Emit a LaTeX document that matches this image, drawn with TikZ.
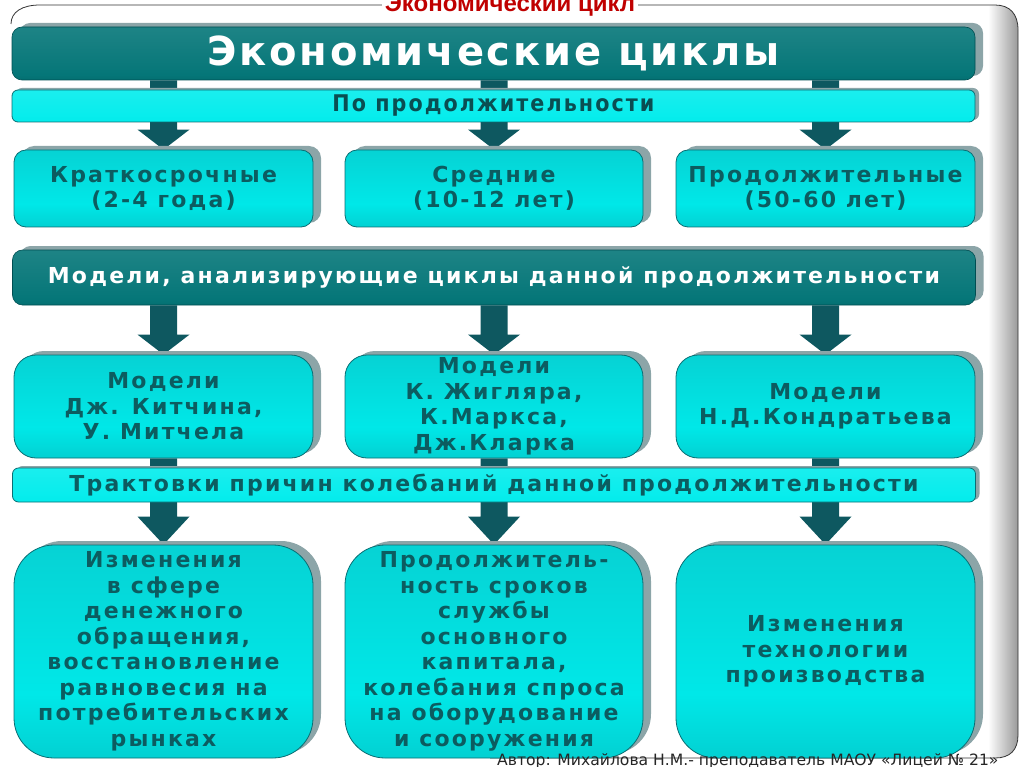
\documentclass[tikz,border=0pt]{standalone}
\usepackage{fontspec}
\usetikzlibrary{calc,shadows}
\setmainfont{DejaVu Sans}
\newfontfamily\boxfont{DejaVu Sans}[LetterSpace=10]
\newfontfamily\hdrfont{DejaVu Sans}[LetterSpace=7]
\newfontfamily\barfont{DejaVu Sans Condensed}[LetterSpace=9]
\newfontfamily\titlefont{Liberation Sans}
\newfontfamily\footfont{DejaVu Sans}
\definecolor{txt}{RGB}{12,92,96}
\definecolor{arr}{RGB}{14,88,96}
\definecolor{boxtop}{RGB}{22,160,165}
\definecolor{boxmid}{RGB}{0,232,232}
\definecolor{boxbot}{RGB}{10,145,150}
\definecolor{boxline}{RGB}{10,110,115}
\definecolor{dtop}{RGB}{120,170,170}
\definecolor{dmid}{RGB}{5,118,120}
\definecolor{dbot}{RGB}{0,78,82}
\definecolor{cyanbar}{RGB}{0,236,236}
\definecolor{shad}{RGB}{140,165,168}
\definecolor{titlered}{RGB}{192,0,0}
\pgfdeclareverticalshading{boxshade}{100bp}{color(0bp)=(boxbot); color(12bp)=(boxbot!50!boxmid); color(40bp)=(boxmid); color(75bp)=(boxmid!70!boxtop); color(100bp)=(boxtop)}
\pgfdeclareverticalshading{darkshade}{100bp}{color(0bp)=(dbot); color(30bp)=(dmid); color(75bp)=(dmid!90!white); color(92bp)=(dmid!70!dtop); color(100bp)=(dtop)}
\pgfdeclareverticalshading{cyanshade}{100bp}{color(0bp)=(cyanbar!90!black); color(20bp)=(cyanbar); color(100bp)=(cyanbar!85!white)}
\pgfdeclarelayer{back}
\pgfsetlayers{back,main}
\newcommand\downarrowshape[3]{%
  \fill[arr] let \p1=(#1.south -| #2.north), \p2=(#2.north) in
    (\x1-13.5pt,\y1) -- (\x1-13.5pt,\y2+#3pt) -- (\x1-26pt,\y2+#3pt) -- (\x2,\y2)
    -- (\x1+26pt,\y2+#3pt) -- (\x1+13.5pt,\y2+#3pt) -- (\x1+13.5pt,\y1) -- cycle;}
\begin{document}
\begin{tikzpicture}[x=1pt,y=-1pt,
  shadowed/.style={drop shadow={shadow xshift=8pt,shadow yshift=4pt,fill=shad,opacity=1}},
  cbox/.style={shade,shading=boxshade,draw=boxline,line width=0.8pt,shadowed,
    text=txt,font={\boxfont\bfseries\fontsize{22}{25.5}\selectfont},align=center,inner sep=0pt},
  darkbar/.style={shade,shading=darkshade,draw=dbot,line width=0.6pt,rounded corners=10pt,shadowed,
    text=white,inner sep=0pt,minimum width=963pt},
  cyanbox/.style={shade,shading=cyanshade,draw=boxline,line width=0.8pt,rounded corners=6pt,
    drop shadow={shadow xshift=4pt,shadow yshift=2pt,fill=shad,opacity=1},
    text=txt,inner sep=0pt,minimum width=963pt},
  bigfont/.style={font={\boxfont\bfseries\fontsize{22}{25.5}\selectfont}}]
\useasboundingbox (0,0) rectangle (1024,767);

% frame
\begin{pgfonlayer}{back}
\shade[left color=white,right color=black!40]
  (988,5) -- (995,5) .. controls (1010,5) and (1018,14) .. (1018,30) -- (1018,735)
  .. controls (1018,750) and (1010,758) .. (995,758) -- (988,758) -- cycle;
\draw[line width=0.8pt,black!80]
  (11,24) .. controls (11,12) and (22,5) .. (40,5) -- (995,5)
  .. controls (1010,5) and (1018,14) .. (1018,30) -- (1018,735)
  .. controls (1018,750) and (1010,758) .. (995,758) -- (490,758);
\end{pgfonlayer}
\node[fill=white,inner xsep=3pt,inner ysep=0pt,anchor=base,text=titlered,
  font={\titlefont\bfseries\fontsize{24}{24}\selectfont}] (title) at (510,12) {Экономический цикл};

% bars
\node[darkbar,minimum height=53pt,font={\hdrfont\bfseries\fontsize{40}{42}\selectfont}] (hdr) at (493.5,53.5) {Экономические циклы};
\node[cyanbox,minimum height=32pt,text=txt!85!black,font={\barfont\bfseries\fontsize{23}{26}\selectfont}] (by) at (493.5,106) {По продолжительности};

% row 1
\node[cbox,rounded corners=12pt,minimum width=299pt,minimum height=77pt] (r1a) at (163.5,188.5) {Краткосрочные\\(2-4 года)};
\node[cbox,rounded corners=12pt,minimum width=298pt,minimum height=77pt] (r1b) at (494,188.5) {Средние\\(10-12 лет)};
\node[cbox,rounded corners=12pt,minimum width=299pt,minimum height=77pt] (r1c) at (825.5,188.5) {Продолжительные\\(50-60 лет)};

\node[darkbar,minimum height=55pt,bigfont] (models) at (494,277.5) {Модели, анализирующие циклы данной продолжительности};

% row 2
\node[cbox,rounded corners=22pt,minimum width=299pt,minimum height=103pt] (r2a) at (163.5,406.5) {Модели\\Дж. Китчина,\\У. Митчела};
\node[cbox,rounded corners=22pt,minimum width=298pt,minimum height=103pt] (r2b) at (494,406.5) {Модели\\К. Жигляра,\\К.Маркса,\\Дж.Кларка};
\node[cbox,rounded corners=22pt,minimum width=299pt,minimum height=103pt] (r2c) at (825.5,406.5) {Модели\\Н.Д.Кондратьева};

\node[cyanbox,minimum height=34pt,bigfont] (causes) at (494,485) {Трактовки причин колебаний данной продолжительности};

% row 3
\node[cbox,rounded corners=40pt,minimum width=299pt,minimum height=213pt] (r3a) at (163.5,651.5) {Изменения\\в сфере\\денежного\\обращения,\\восстановление\\равновесия на\\потребительских\\рынках};
\node[cbox,rounded corners=40pt,minimum width=298pt,minimum height=213pt] (r3b) at (494,651.5) {Продолжитель-\\ность сроков\\службы\\основного\\капитала,\\колебания спроса\\на оборудование\\и сооружения};
\node[cbox,rounded corners=40pt,minimum width=299pt,minimum height=213pt] (r3c) at (825.5,651.5) {Изменения\\технологии\\производства};

% arrows
\begin{pgfonlayer}{back}
\downarrowshape{hdr}{r1a}{20}
\downarrowshape{hdr}{r1b}{20}
\downarrowshape{hdr}{r1c}{20}
\downarrowshape{models}{r2a}{20}
\downarrowshape{models}{r2b}{20}
\downarrowshape{models}{r2c}{20}
\downarrowshape{r2a}{r3a}{28}
\downarrowshape{r2b}{r3b}{28}
\downarrowshape{r2c}{r3c}{28}
\end{pgfonlayer}

\node[anchor=base west,inner sep=0pt,text=black!85,font={\footfont\fontsize{15.6}{18}\selectfont}] (author) at (497,765) {Автор: Михайлова Н.М.- преподаватель МАОУ «Лицей № 21»};
\end{tikzpicture}
\end{document}
